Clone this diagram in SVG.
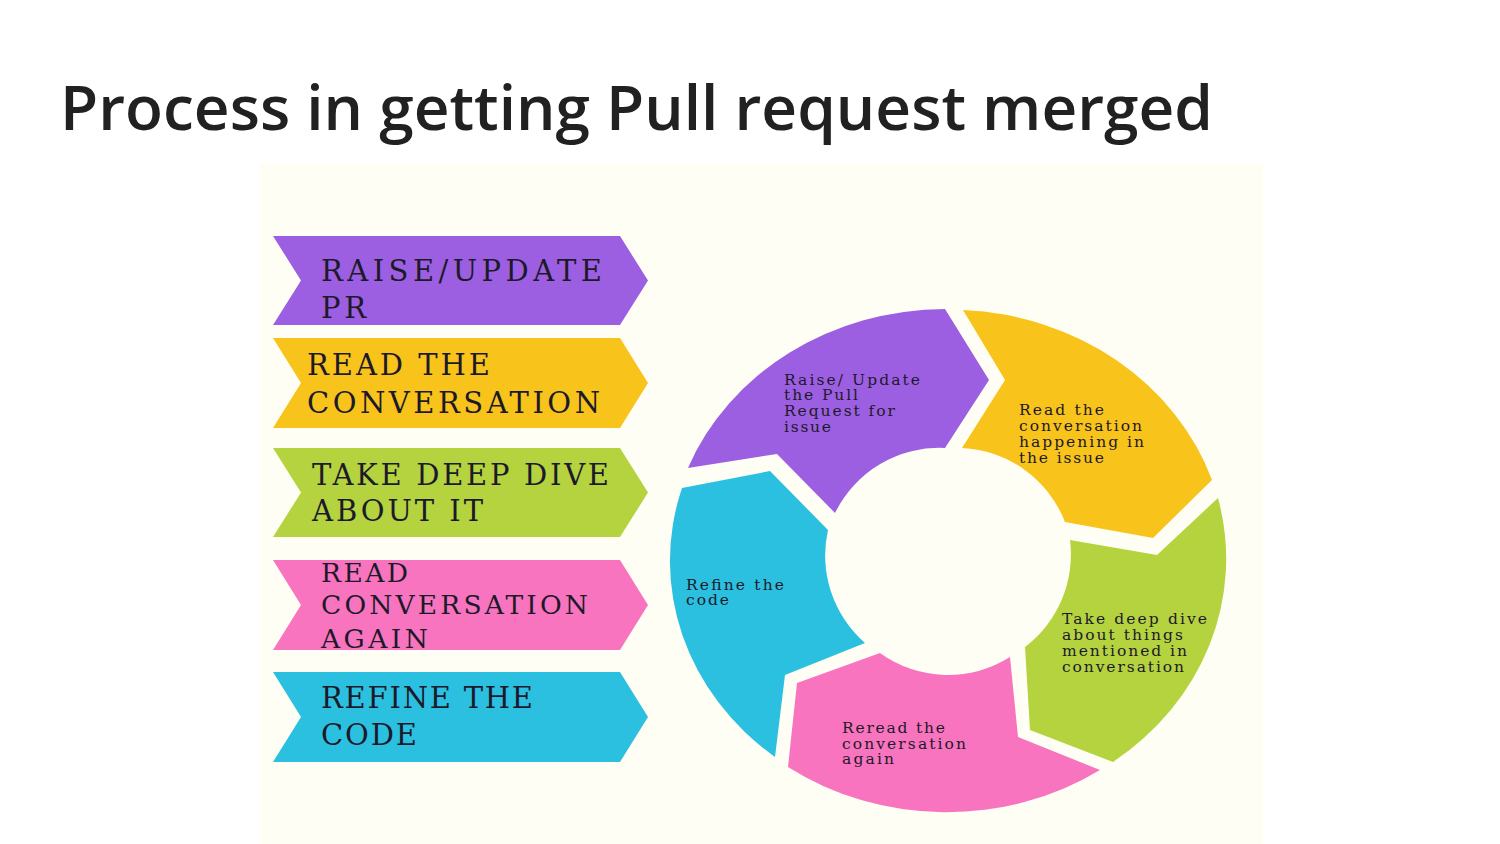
<svg xmlns="http://www.w3.org/2000/svg" width="1500" height="844" viewBox="0 0 1500 844">
<style>
.title{font-family:"Open Sans","Liberation Sans",sans-serif;font-weight:600;font-size:62px;fill:#212121}
.chev{font-family:"DejaVu Serif","Liberation Serif",serif;font-size:29px;fill:#1c1a2a}
.seg{font-family:"DejaVu Serif","Liberation Serif",serif;font-size:15.5px;fill:#1c1a2a}
.purple{fill:#9d5fe1}.yellow{fill:#f8c31a}.green{fill:#b4d33f}.pink{fill:#f874bf}.blue{fill:#2bc0e0}
</style>
<rect width="1500" height="844" fill="#ffffff"/>
<rect x="260" y="163" width="1003" height="681" fill="#fefef4"/>
<text class="title" x="60" y="130" textLength="1153" lengthAdjust="spacingAndGlyphs">Process in getting Pull request merged</text>

<g id="chevron-raise">
<polygon class="purple" points="273,236 620,236 648,280.5 620,325 273,325 301,280.5"/>
<text class="chev" x="321" y="281" textLength="281">RAISE/UPDATE</text>
<text class="chev" x="321" y="318" textLength="45">PR</text>
</g>
<g id="chevron-read">
<polygon class="yellow" points="273,338 620,338 648,383 620,428 273,428 301,383"/>
<text class="chev" x="307" y="375" textLength="183">READ THE</text>
<text class="chev" x="307" y="413" textLength="293">CONVERSATION</text>
</g>
<g id="chevron-dive">
<polygon class="green" points="273,448 620,448 648,492.5 620,537 273,537 301,492.5"/>
<text class="chev" x="312" y="485" textLength="297">TAKE DEEP DIVE</text>
<text class="chev" x="312" y="521" textLength="171">ABOUT IT</text>
</g>
<g id="chevron-reread">
<polygon class="pink" points="273,560 620,560 648,605 620,650 273,650 301,605"/>
<text class="chev" x="321" y="582" textLength="87" style="font-size:26.5px">READ</text>
<text class="chev" x="321" y="614" textLength="267" style="font-size:26.5px">CONVERSATION</text>
<text class="chev" x="321" y="648" textLength="107" style="font-size:26.5px">AGAIN</text>
</g>
<g id="chevron-refine">
<polygon class="blue" points="273,672 620,672 648,717 620,762 273,762 301,717"/>
<text class="chev" x="321" y="708" textLength="212">REFINE THE</text>
<text class="chev" x="321" y="745" textLength="96">CODE</text>
</g>

<g id="seg-raise">
<path class="purple" d="M688,468 A277,250 0 0 1 945,309 L989,380 L945,448 A116,116 0 0 0 835,513 L777,454 Z"/>
<text class="seg" x="784" y="385" textLength="136">Raise/ Update</text>
<text class="seg" x="784" y="400" textLength="74">the Pull</text>
<text class="seg" x="784" y="416" textLength="111">Request for</text>
<text class="seg" x="784" y="432" textLength="47">issue</text>
</g>
<g id="seg-read">
<path class="yellow" d="M963,310 A277,250 0 0 1 1212,480 L1153,538 L1065,522 A116,116 0 0 0 962,448 L1005,380 Z"/>
<text class="seg" x="1019" y="415" textLength="85">Read the</text>
<text class="seg" x="1019" y="431" textLength="123">conversation</text>
<text class="seg" x="1019" y="447" textLength="125">happening in</text>
<text class="seg" x="1019" y="463" textLength="85">the issue</text>
</g>
<g id="seg-dive">
<path class="green" d="M1218,498 A277,252 0 0 1 1113,762 L1030,730 L1025,647 A116,116 0 0 0 1070,540 L1157,555 Z"/>
<text class="seg" x="1062" y="624" textLength="145">Take deep dive</text>
<text class="seg" x="1062" y="640" textLength="121">about things</text>
<text class="seg" x="1062" y="656" textLength="125">mentioned in</text>
<text class="seg" x="1062" y="672" textLength="122">conversation</text>
</g>
<g id="seg-reread">
<path class="pink" d="M1100,770 A277,252 0 0 1 788,767 L797,683 L880,653 A116,116 0 0 0 1010,657 L1018,737 Z"/>
<text class="seg" x="842" y="733" textLength="103">Reread the</text>
<text class="seg" x="842" y="749" textLength="124">conversation</text>
<text class="seg" x="842" y="764" textLength="52">again</text>
</g>
<g id="seg-refine">
<path class="blue" d="M775,757 A277,250 0 0 1 682,488 L770,471 L828,530 A116,116 0 0 0 865,643 L785,675 Z"/>
<text class="seg" x="686" y="590" textLength="98">Refine the</text>
<text class="seg" x="686" y="605" textLength="43">code</text>
</g>
<g id="connectors"/>
</svg>
